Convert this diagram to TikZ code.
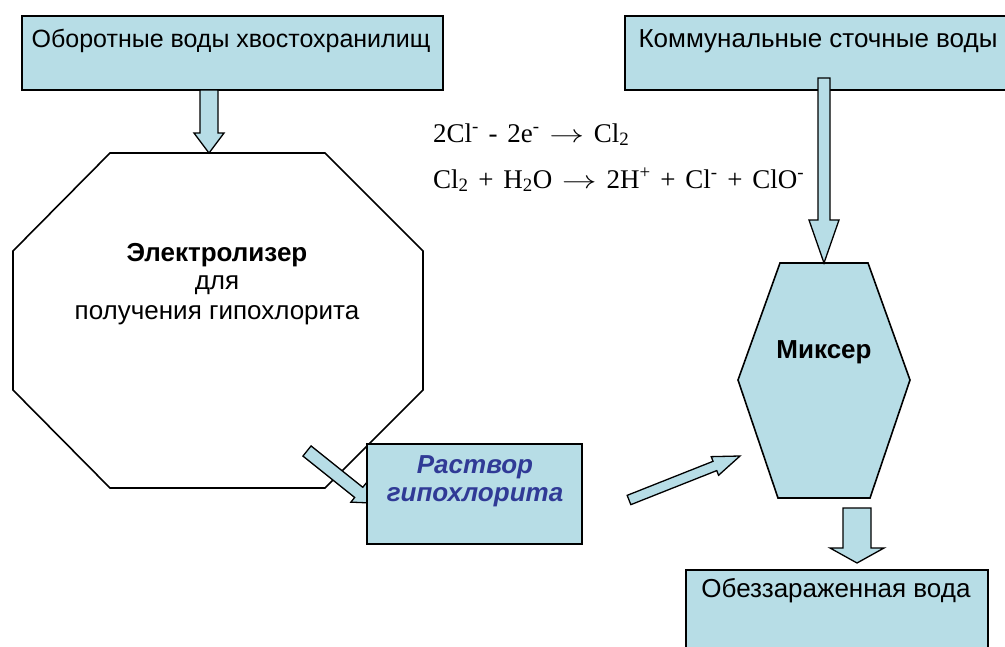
\documentclass[tikz,border=0pt]{standalone}
\usepackage{fontspec}
\setmainfont{Liberation Sans}
\newfontfamily\eqfont{Liberation Serif}
\usetikzlibrary{calc}
\definecolor{lblue}{RGB}{183,221,230}
\definecolor{dblue}{RGB}{48,58,150}
\newcommand\eqsetup{\eqfont\fontsize{27}{32}\selectfont\spaceskip 0.36em plus 0.1em\relax}
\tikzset{
  boxshape/.style={draw=black, fill=lblue, line width=1.6pt},
  polyshape/.style={draw=black, line width=1.6pt, line join=miter},
  blockarrow/.style={draw=black, fill=lblue, line width=1.3pt, line join=miter},
  lbl/.style={font=\fontsize{26}{30}\selectfont, inner sep=0pt},
  eqlbl/.style={font=\eqsetup, inner sep=0pt, anchor=base west}
}
% #1 from, #2 to, #3 half shaft width, #4 half head width, #5 head length
\newcommand\blockarr[5]{%
  \coordinate (hb) at ($(#2)!#5!(#1)$);
  \draw[blockarrow]
    ($(#1)!#3!90:(#2)$) -- ($(hb)!#3!-90:(#1)$) -- ($(hb)!#4!-90:(#1)$) --
    (#2) -- ($(hb)!#4!90:(#1)$) -- ($(hb)!#3!90:(#1)$) -- ($(#1)!#3!-90:(#2)$) -- cycle;
}
\newcommand\eqarr{\scalebox{1.4}[1]{$\rightarrow$}}
\begin{document}
\begin{tikzpicture}[x=1pt,y=-1pt]
\useasboundingbox (0,0) rectangle (1005,646);
\clip (0,0) rectangle (1005,646);
\fill[white] (0,0) rectangle (1005,646);

% Electrolyser octagon
\draw[polyshape] (110,153) -- (325,153) -- (423,251) -- (423,390) -- (325,488)
  -- (110,488) -- (13,390) -- (13,251) -- cycle;
\node[lbl, font=\fontsize{26}{30}\selectfont\bfseries] (el1) at (217,255) {Электролизер};
\node[lbl] (el2) at (217,285) {для};
\node[lbl] (el3) at (217,315) {получения гипохлорита};

% Mixer hexagon
\draw[polyshape, fill=lblue] (780,263) -- (868,263) -- (910,380) -- (870,498)
  -- (778,498) -- (738,380) -- cycle;
\node[lbl, font=\fontsize{26}{30}\selectfont\bfseries] (mix) at (824,352) {Миксер};

% arrow electrolyser -> solution (under the box)
\coordinate (a3s) at (307,451);
\coordinate (a3e) at (372,503);
\blockarr{a3s}{a3e}{6.5pt}{12.5pt}{17pt}

% Boxes
\draw[boxshape] (22,16) rectangle (443,90);
\node[lbl, font=\fontsize{25}{30}\selectfont] (src1) at (231,41) {Оборотные воды хвостохранилищ};
\draw[boxshape] (625,16) rectangle (1015,90);
\node[lbl] (src2) at (818,41) {Коммунальные сточные воды};
\draw[boxshape] (367,444) rectangle (582,544);
\node[lbl, font=\fontsize{26}{30}\selectfont\bfseries\itshape, text=dblue] (sol1) at (475,467) {Раствор};
\node[lbl, font=\fontsize{26}{30}\selectfont\bfseries\itshape, text=dblue] (sol2) at (475,497) {гипохлорита};
\draw[boxshape] (686,570) rectangle (988,660);
\node[lbl] (out) at (836,591) {Обеззараженная вода};

% Equations
\node[eqlbl] (eq1) at (433,142) {2Cl\textsuperscript{-} - 2e\textsuperscript{-} \eqarr{} Cl\textsubscript{2}};
\node[eqlbl] (eq2) at (433,188) {Cl\textsubscript{2} + H\textsubscript{2}O \eqarr{} 2H\textsuperscript{+} + Cl\textsuperscript{-} + ClO\textsuperscript{-}};

% Block arrows
\coordinate (a1s) at (209,90);
\coordinate (a1e) at (209,153);
\blockarr{a1s}{a1e}{9pt}{15pt}{20pt}
\coordinate (a2s) at (824,78);
\coordinate (a2e) at (824,263);
\blockarr{a2s}{a2e}{6pt}{15pt}{43pt}
\coordinate (a4s) at (629,500);
\coordinate (a4e) at (740,456);
\blockarr{a4s}{a4e}{5pt}{10pt}{27pt}
\coordinate (a5s) at (857,508);
\coordinate (a5e) at (857,563);
\blockarr{a5s}{a5e}{14pt}{27pt}{15pt}
\end{tikzpicture}
\end{document}
